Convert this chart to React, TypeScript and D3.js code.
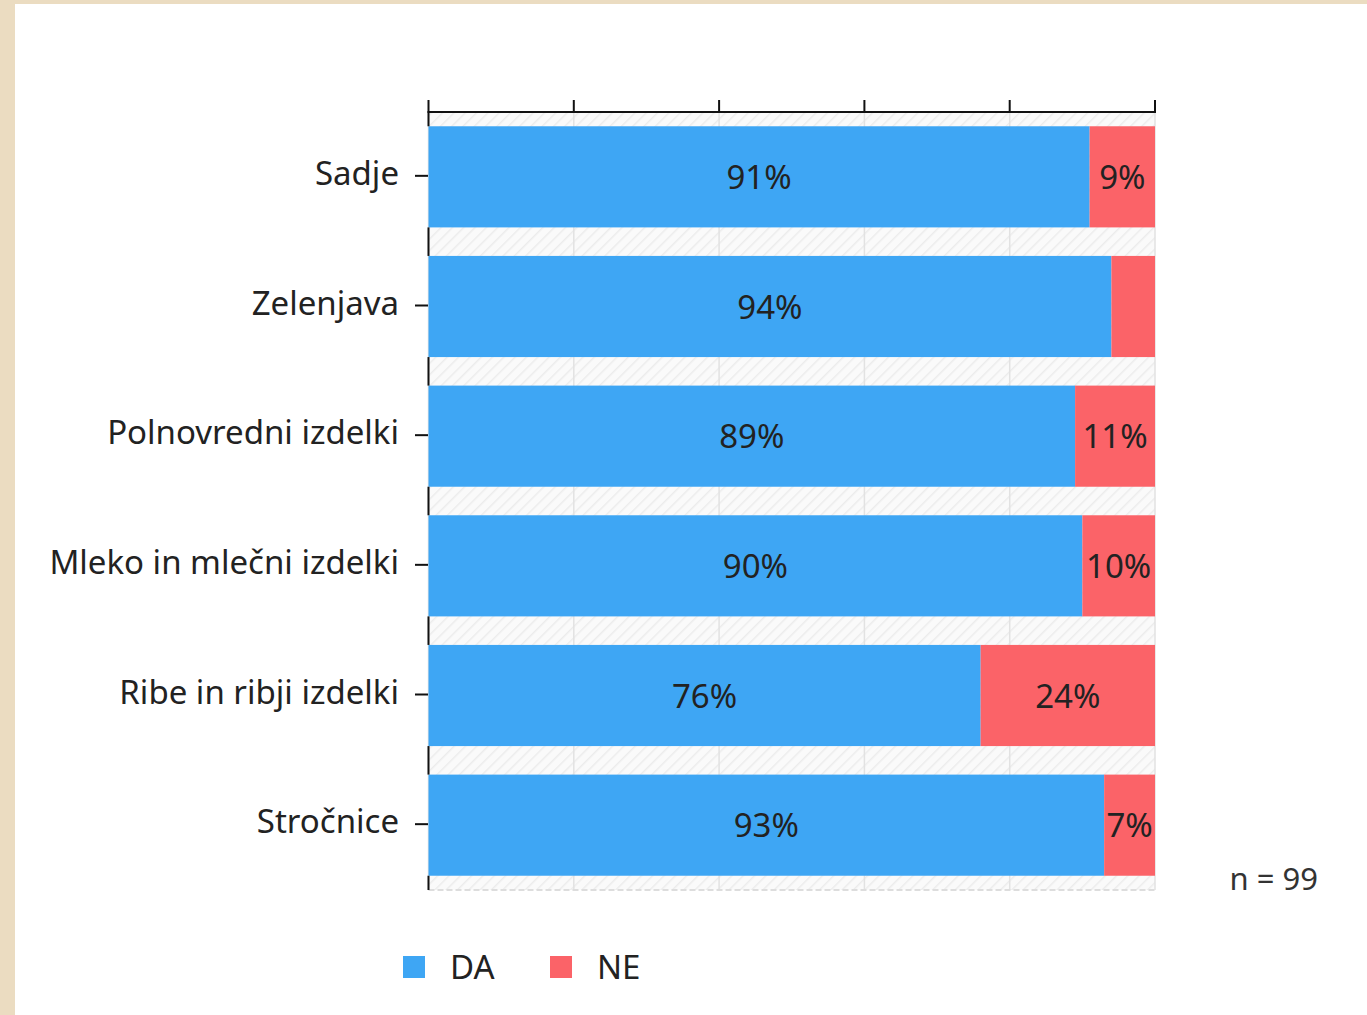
import React from "react";
import * as d3 from "d3";

const categories = ["Sadje", "Zelenjava", "Polnovredni izdelki", "Mleko in mlečni izdelki", "Ribe in ribji izdelki", "Stročnice"];
const daValues = [91, 94, 89, 90, 76, 93];
const neValues = [9, 6, 11, 10, 24, 7];
const seriesNames = ["DA", "NE"];
const xTicks = [0, 20, 40, 60, 80, 100];
const sampleNote = "n = 99";

const W = 1367;
const H = 1015;
const colors = ["#3ea6f4", "#fb6368"];
const FONT = "'Noto Sans', sans-serif";

export default function App() {
  const left = 428.5;
  const right = 1155;
  const top = 112;
  const bottom = 890;
  const x = d3.scaleLinear().domain([0, 100]).range([left, right]);
  const y = d3.scaleBand<string>().domain(categories).range([top, bottom]).paddingInner(0.22).paddingOuter(0.11);
  const rows = categories.map((c, i) => ({ c, da: daValues[i], ne: neValues[i] }));
  const stack = d3.stack<any>().keys(["da", "ne"])(rows as any);

  return (
    <div style={{ position: "absolute", left: 0, top: 0 }}>
      <svg width={W} height={H} style={{ display: "block" }}>
        <defs>
          <pattern id="hatch" width="8" height="8" patternUnits="userSpaceOnUse" patternTransform="rotate(45)">
            <rect width="8" height="8" fill="#fafafa" />
            <line x1="0" y1="0" x2="0" y2="8" stroke="#ececec" strokeWidth="3" />
          </pattern>
        </defs>
        <rect x={0} y={0} width={W} height={H} fill="#ffffff" />
        <rect x={0} y={0} width={W} height={4} fill="#ebdcc1" />
        <rect x={0} y={0} width={15} height={H} fill="#ebdcc1" />

        <rect x={left} y={top} width={right - left} height={bottom - top} fill="url(#hatch)" />
        {xTicks.map((t) => (
          <line key={"g" + t} x1={x(t)} x2={x(t)} y1={top} y2={bottom} stroke="#e2e2e2" strokeWidth={1.5} />
        ))}
        <line x1={left} x2={right} y1={bottom} y2={bottom} stroke="#dddddd" strokeWidth={2} strokeDasharray="6,3" />

        {stack.map((s, si) =>
          s.map((d: any, i: number) => (
            <rect
              key={si + "-" + i}
              x={x(d[0])}
              y={y(categories[i])!}
              width={x(d[1]) - x(d[0])}
              height={y.bandwidth()}
              fill={colors[si]}
            />
          ))
        )}

        {categories.map((c, i) => {
          const y0 = i === 0 ? top : y(categories[i - 1])! + y.bandwidth();
          const y1 = y(c)!;
          return <line key={"la" + i} x1={left} x2={left} y1={y0} y2={y1} stroke="#111" strokeWidth={2} />;
        })}
        <line x1={left} x2={left} y1={y(categories[categories.length - 1])! + y.bandwidth()} y2={bottom} stroke="#111" strokeWidth={2} />

        <line x1={left - 1} x2={right + 1} y1={top} y2={top} stroke="#111" strokeWidth={2} />
        {xTicks.map((t) => (
          <line key={"t" + t} x1={x(t)} x2={x(t)} y1={top - 12} y2={top} stroke="#111" strokeWidth={2} />
        ))}

        {categories.map((c) => {
          const cy = y(c)! + y.bandwidth() / 2;
          return (
            <g key={"yl" + c}>
              <line x1={415} x2={428} y1={cy - 1} y2={cy - 1} stroke="#111" strokeWidth={2} />
              <text x={399} y={cy + 8} textAnchor="end" fontFamily={FONT} fontSize={33} fill="#222">
                {c}
              </text>
            </g>
          );
        })}

        {stack.map((s, si) =>
          s.map((d: any, i: number) => {
            const v = d[1] - d[0];
            if (v < 7) return null;
            const cx = (x(d[0]) + x(d[1])) / 2;
            const cy = y(categories[i])! + y.bandwidth() / 2;
            return (
              <text key={"v" + si + i} x={cx} y={cy + 12} textAnchor="middle" fontFamily={FONT} fontSize={33} fill="#222">
                {v + "%"}
              </text>
            );
          })
        )}

        <text x={1318} y={890} textAnchor="end" fontFamily={FONT} fontSize={31} fill="#333">
          {sampleNote}
        </text>

        {seriesNames.map((n, i) => (
          <g key={"lg" + n} transform={`translate(${403 + i * 147},956)`}>
            <rect x={0} y={0} width={22} height={22} fill={colors[i]} />
            <text x={47} y={23} fontFamily={FONT} fontSize={33} fill="#222">
              {n}
            </text>
          </g>
        ))}
      </svg>
    </div>
  );
}
